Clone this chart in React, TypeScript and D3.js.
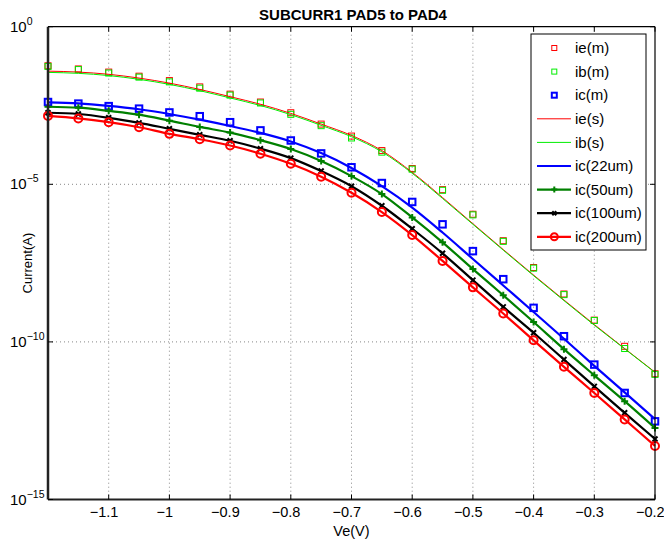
import React from "react";
import * as d3 from "d3";

// Emitter voltage (V)
const ve = [-1.2, -1.15, -1.1, -1.05, -1.0, -0.95, -0.9, -0.85, -0.8, -0.75, -0.7, -0.65, -0.6, -0.55, -0.5, -0.45, -0.4, -0.35, -0.3, -0.25, -0.2];

// log10 of current (A)
const ieMeas = [-1.24, -1.34, -1.44, -1.57, -1.71, -1.91, -2.14, -2.39, -2.73, -3.09, -3.47, -3.93, -4.50, -5.17, -5.95, -6.79, -7.64, -8.48, -9.31, -10.14, -11.01];
const ibMeas = [-1.26, -1.36, -1.47, -1.60, -1.75, -1.95, -2.17, -2.42, -2.78, -3.14, -3.53, -3.98, -4.52, -5.19, -5.97, -6.81, -7.66, -8.50, -9.32, -10.21, -11.03];
const icMeas = [-2.39, -2.44, -2.52, -2.60, -2.72, -2.84, -3.03, -3.29, -3.61, -4.02, -4.46, -4.96, -5.56, -6.27, -7.12, -8.01, -8.92, -9.82, -10.72, -11.62, -12.52];
const ieSim = [-1.41, -1.44, -1.51, -1.63, -1.79, -1.99, -2.22, -2.46, -2.75, -3.09, -3.45, -3.93, -4.62, -5.42, -6.25, -7.07, -7.88, -8.67, -9.45, -10.21, -10.96];
const ibSim = [-1.45, -1.48, -1.55, -1.67, -1.83, -2.03, -2.26, -2.50, -2.79, -3.13, -3.49, -3.97, -4.65, -5.45, -6.27, -7.09, -7.90, -8.69, -9.47, -10.22, -10.97];
const ic22 = [-2.40, -2.43, -2.51, -2.62, -2.77, -2.95, -3.15, -3.37, -3.64, -4.01, -4.48, -5.06, -5.74, -6.53, -7.37, -8.21, -9.05, -9.90, -10.76, -11.60, -12.45];
const ic50 = [-2.54, -2.57, -2.67, -2.79, -2.98, -3.18, -3.36, -3.60, -3.88, -4.26, -4.74, -5.31, -6.05, -6.84, -7.69, -8.52, -9.37, -10.23, -11.06, -11.88, -12.73];
const ic100 = [-2.73, -2.77, -2.89, -3.05, -3.24, -3.43, -3.62, -3.87, -4.17, -4.58, -5.06, -5.68, -6.41, -7.19, -8.04, -8.89, -9.71, -10.56, -11.41, -12.25, -13.08];
const ic200 = [-2.83, -2.91, -3.03, -3.19, -3.40, -3.57, -3.77, -4.03, -4.35, -4.76, -5.27, -5.88, -6.61, -7.43, -8.27, -9.10, -9.95, -10.79, -11.62, -12.46, -13.30];

const xTicks = [-1.1, -1.0, -0.9, -0.8, -0.7, -0.6, -0.5, -0.4, -0.3, -0.2];
const xTickLabels = ["\u22121.1", "\u22121", "\u22120.9", "\u22120.8", "\u22120.7", "\u22120.6", "\u22120.5", "\u22120.4", "\u22120.3", "\u22120.2"];
const yDecades = [0, -5, -10, -15];
const yExpLabels = ["0", "\u22125", "\u221210", "\u221215"];

const legendLabels = ["ie(m)", "ib(m)", "ic(m)", "ie(s)", "ib(s)", "ic(22um)", "ic(50um)", "ic(100um)", "ic(200um)"];

const W = 664, H = 542;
const L = 48, R = 655, T = 26.7, B = 499.5;
const FONT = "'Liberation Sans', Arial, Helvetica, sans-serif";

type Marker = "none" | "square" | "plus" | "x" | "circle";
interface Series { name: string; data: number[]; color: string; line: boolean; lw: number; marker: Marker; msize: number; mlw: number; }

const series: Series[] = [
  { name: legendLabels[0], data: ieMeas, color: "#ff0000", line: false, lw: 0, marker: "square", msize: 6, mlw: 1 },
  { name: legendLabels[1], data: ibMeas, color: "#00ee00", line: false, lw: 0, marker: "square", msize: 6, mlw: 1 },
  { name: legendLabels[2], data: icMeas, color: "#0000ff", line: false, lw: 0, marker: "square", msize: 6.5, mlw: 2 },
  { name: legendLabels[3], data: ieSim, color: "#ff0000", line: true, lw: 1, marker: "none", msize: 0, mlw: 0 },
  { name: legendLabels[4], data: ibSim, color: "#00ee00", line: true, lw: 1, marker: "none", msize: 0, mlw: 0 },
  { name: legendLabels[5], data: ic22, color: "#0000ff", line: true, lw: 2.2, marker: "none", msize: 0, mlw: 0 },
  { name: legendLabels[6], data: ic50, color: "#008000", line: true, lw: 2.2, marker: "plus", msize: 7, mlw: 2 },
  { name: legendLabels[7], data: ic100, color: "#000000", line: true, lw: 2.2, marker: "x", msize: 5, mlw: 2 },
  { name: legendLabels[8], data: ic200, color: "#ff0000", line: true, lw: 2.2, marker: "circle", msize: 8, mlw: 2 },
];

function MarkerShape({ s, cx, cy }: { s: Series; cx: number; cy: number }) {
  const h = s.msize / 2;
  switch (s.marker) {
    case "square":
      return <rect x={cx - h} y={cy - h} width={s.msize} height={s.msize} fill="none" stroke={s.color} strokeWidth={s.mlw} />;
    case "plus":
      return <path d={`M${cx - h},${cy}H${cx + h}M${cx},${cy - h}V${cy + h}`} stroke={s.color} strokeWidth={s.mlw} fill="none" />;
    case "x":
      return <path d={`M${cx - h},${cy - h}L${cx + h},${cy + h}M${cx - h},${cy + h}L${cx + h},${cy - h}`} stroke={s.color} strokeWidth={s.mlw} fill="none" />;
    case "circle":
      return <circle cx={cx} cy={cy} r={h} fill="none" stroke={s.color} strokeWidth={s.mlw} />;
    default:
      return null;
  }
}

export default function App() {
  const x = d3.scaleLinear().domain([-1.2, -0.2]).range([L, R]);
  const y = d3.scaleLog().domain([1e-15, 1]).range([B, T]);
  const line = d3.line<[number, number]>().x(d => x(d[0])).y(d => y(Math.pow(10, d[1]))).curve(d3.curveMonotoneX);

  const legX = 531, legY = 34, legW = 115, legH = 216;
  const rowY = (i: number) => 48 + i * 23.6;

  return (
    <svg width={W} height={H} style={{ position: "absolute", left: 0, top: 0, background: "#fff" }} fontFamily={FONT}>
      <rect x={0} y={0} width={W} height={H} fill="#fff" />
      <rect x={L} y={T} width={R - L} height={B - T} fill="#fff" />
      {/* grid */}
      {xTicks.slice(0, -1).map(t => (
        <line key={"gx" + t} x1={x(t)} x2={x(t)} y1={T} y2={B} stroke="#888" strokeWidth={1} strokeDasharray="1,3" />
      ))}
      {yDecades.slice(1, -1).map(e => (
        <line key={"gy" + e} x1={L} x2={R} y1={y(Math.pow(10, e))} y2={y(Math.pow(10, e))} stroke="#888" strokeWidth={1} strokeDasharray="1,3" />
      ))}
      {/* series */}
      {series.map(s => (
        <g key={s.name}>
          {s.line && (
            <path d={line(ve.map((v, i) => [v, s.data[i]] as [number, number])) || ""} fill="none" stroke={s.color} strokeWidth={s.lw} strokeLinejoin="round" />
          )}
          {s.marker !== "none" && ve.map((v, i) => (
            <MarkerShape key={i} s={s} cx={x(v)} cy={y(Math.pow(10, s.data[i]))} />
          ))}
        </g>
      ))}
      {/* axes box */}
      <line x1={L} x2={R} y1={T} y2={T} stroke="#000" strokeWidth={1.2} />
      <line x1={R} x2={R} y1={T} y2={B} stroke="#000" strokeWidth={1.2} />
      <line x1={L} x2={L} y1={T} y2={B} stroke="#222" strokeWidth={2.5} />
      <line x1={L} x2={R} y1={B} y2={B} stroke="#222" strokeWidth={2} />
      {/* ticks */}
      {xTicks.map(t => (
        <g key={"tx" + t}>
          <line x1={x(t)} x2={x(t)} y1={B} y2={B - 5} stroke="#000" strokeWidth={1} />
          <line x1={x(t)} x2={x(t)} y1={T} y2={T + 5} stroke="#000" strokeWidth={1} />
        </g>
      ))}
      {yDecades.map(e => (
        <g key={"ty" + e}>
          <line x1={L} x2={L + 5} y1={y(Math.pow(10, e))} y2={y(Math.pow(10, e))} stroke="#000" strokeWidth={1} />
          <line x1={R} x2={R - 5} y1={y(Math.pow(10, e))} y2={y(Math.pow(10, e))} stroke="#000" strokeWidth={1} />
        </g>
      ))}
      {/* tick labels */}
      {xTicks.map((t, i) => (
        <text key={"lx" + t} x={x(t) - 4.7} y={516.5} textAnchor="middle" fontSize={14.5} fill="#000">{xTickLabels[i]}</text>
      ))}
      {yDecades.map((e, i) => (
        <text key={"ly" + e} x={10} y={y(Math.pow(10, e)) + 5} fontSize={15} fill="#000">
          10<tspan fontSize={10.5} dy={-7}>{yExpLabels[i]}</tspan>
        </text>
      ))}
      {/* labels */}
      <text x={(L + R) / 2} y={535.5} textAnchor="middle" fontSize={14.5} fill="#000">Ve(V)</text>
      <text transform={`translate(32,${(T + B) / 2}) rotate(-90)`} textAnchor="middle" fontSize={13} fill="#000">Current(A)</text>
      <text x={353} y={20} textAnchor="middle" fontSize={15} fontWeight="bold" fill="#000">SUBCURR1 PAD5 to PAD4</text>
      {/* legend */}
      <rect x={legX} y={legY} width={legW} height={legH} fill="#fff" stroke="#000" strokeWidth={1} />
      {series.map((s, i) => (
        <g key={"lg" + s.name}>
          {s.line && <line x1={537} x2={571} y1={rowY(i)} y2={rowY(i)} stroke={s.color} strokeWidth={s.lw} />}
          {s.marker !== "none" && <MarkerShape s={{ ...s, msize: s.marker === "square" ? 5 : s.msize - 1 }} cx={554.3} cy={rowY(i)} />}
          <text x={575} y={rowY(i) + 5.2} fontSize={15} fill="#000">{s.name}</text>
        </g>
      ))}
    </svg>
  );
}
